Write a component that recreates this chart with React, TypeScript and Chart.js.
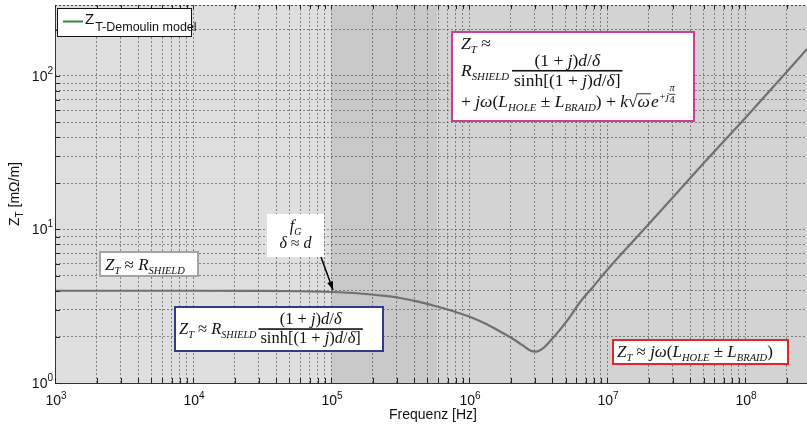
import React, { useEffect, useRef } from 'react';
import { Chart, registerables } from 'chart.js';

Chart.register(...registerables);

// ---------- data ----------
const frequencies = [
  1e3, 3e3, 1e4, 3e4, 5.96e4, 1e5, 1.62e5, 2.46e5, 3.16e5, 4.2e5, 5.5e5, 7.4e5, 1e6, 1.31e6,
  1.68e6, 2.06e6, 2.42e6, 2.77e6, 3.06e6, 3.43e6, 3.92e6, 4.55e6, 5.4e6, 6.3e6, 7.9e6, 1e7,
  2e7, 5e7, 1e8, 2e8, 2.81e8,
];
const impedance = [
  3.99, 3.99, 3.99, 3.98, 3.96, 3.915, 3.83, 3.69, 3.58, 3.4, 3.2, 2.97, 2.71, 2.44,
  2.165, 1.95, 1.77, 1.63, 1.6, 1.68, 1.9, 2.22, 2.71, 3.32, 4.22, 5.44,
  10.8, 27, 53, 106, 150,
];
const xMajorTicks = [1e3, 1e4, 1e5, 1e6, 1e7, 1e8];
const xTickExponents = ['3', '4', '5', '6', '7', '8'];
const yMajorTicks = [1, 10, 100];
const yTickExponents = ['0', '1', '2'];
const xRange = [1e3, 2.81e8];
const yRange = [1, 290];
const bandEdges = [1e3, 1e5, 5.9e5, 2.81e8];
const bandColors = ['#dfdfdf', '#c9c9c9', '#d3d3d3'];
const legendMain = 'Z';
const legendSub = 'T-Demoulin model';
const xTitle = 'Frequenz [Hz]';

// ---------- helpers ----------
const F_SERIF = '"Liberation Serif", "DejaVu Serif", serif';
const F_SANS = '"Liberation Sans", Arial, sans-serif';
const SUB = 0.62;

function withMinors(majors: number[], max: number): number[] {
  const out: number[] = [];
  for (const m of majors) for (let k = 1; k <= 9; k++) if (m * k <= max * 1.0001) out.push(m * k);
  return out;
}

type Seg = { t?: string; it?: boolean; sub?: boolean; sup?: boolean; sqrt?: string; fr?: [Seg[], Seg[]] };

const it = (t: string): Seg => ({ t, it: true });
const rm = (t: string): Seg => ({ t });
const sb = (t: string): Seg => ({ t, it: true, sub: true });

function fontFor(italic: boolean, size: number) {
  return `${italic ? 'italic ' : ''}${size}px ${F_SERIF}`;
}

function measure(ctx: CanvasRenderingContext2D, segs: Seg[], S: number): number {
  let w = 0;
  for (const s of segs) {
    if (s.fr) {
      const fs = s.sup ? S * 0.6 : S;
      w += Math.max(measure(ctx, s.fr[0], fs), measure(ctx, s.fr[1], fs)) + (s.sup ? 1 : 4);
      continue;
    }
    if (s.sqrt) {
      ctx.font = fontFor(false, S);
      const a = ctx.measureText('√').width;
      ctx.font = fontFor(true, S);
      w += a + ctx.measureText(s.sqrt).width + 1;
      continue;
    }
    const sz = s.sub || s.sup ? S * SUB : S;
    ctx.font = fontFor(!!s.it, sz);
    w += ctx.measureText(s.t || '').width;
  }
  return w;
}

function drawRich(ctx: CanvasRenderingContext2D, segs: Seg[], x: number, y: number, S: number): number {
  ctx.textBaseline = 'alphabetic';
  ctx.textAlign = 'left';
  for (const s of segs) {
    if (s.fr) {
      const fs = s.sup ? S * 0.6 : S;
      const fy = s.sup ? y - 0.55 * S : y;
      const nw = measure(ctx, s.fr[0], fs);
      const dw = measure(ctx, s.fr[1], fs);
      const w = Math.max(nw, dw) + (s.sup ? 1 : 4);
      const bar = fy - 0.3 * fs;
      ctx.fillRect(x, bar - (s.sup ? 0.4 : 0.8), w, s.sup ? 0.8 : 1.6);
      drawRich(ctx, s.fr[0], x + (w - nw) / 2, bar - 0.3 * fs, fs);
      drawRich(ctx, s.fr[1], x + (w - dw) / 2, bar + 0.85 * fs, fs);
      x += w;
      continue;
    }
    if (s.sqrt) {
      ctx.font = fontFor(false, S);
      ctx.fillText('√', x, y);
      const a = ctx.measureText('√').width;
      ctx.font = fontFor(true, S);
      const ww = ctx.measureText(s.sqrt).width;
      ctx.fillText(s.sqrt, x + a, y);
      ctx.fillRect(x + a - 0.5, y - 0.78 * S, ww + 1.5, 0.9);
      x += a + ww + 1;
      continue;
    }
    const sz = s.sub || s.sup ? S * SUB : S;
    ctx.font = fontFor(!!s.it, sz);
    const dy = s.sub ? 0.22 * S : s.sup ? -0.42 * S : 0;
    ctx.fillText(s.t || '', x, y + dy);
    x += ctx.measureText(s.t || '').width;
  }
  return x;
}

function box(ctx: CanvasRenderingContext2D, x: number, y: number, w: number, h: number, stroke: string | null) {
  ctx.fillStyle = '#ffffff';
  ctx.fillRect(x, y, w, h);
  if (stroke) {
    ctx.strokeStyle = stroke;
    ctx.lineWidth = 2;
    ctx.strokeRect(x, y, w, h);
  }
  ctx.fillStyle = '#111111';
}

const ZT: Seg[] = [it('Z'), sb('T')];
const RSH: Seg[] = [it('R'), sb('SHIELD')];
const NUM: Seg[] = [rm('(1 + '), it('j'), rm(')'), it('d'), rm('/'), it('δ')];
const DEN: Seg[] = [rm('sinh[(1 + '), it('j'), rm(')'), it('d'), rm('/'), it('δ'), rm(']')];
const JWL: Seg[] = [it('jω'), rm('('), it('L'), sb('HOLE'), rm(' ± '), it('L'), sb('BRAID'), rm(')')];

const bgPlugin = {
  id: 'bands',
  beforeDraw(chart: any) {
    const { ctx, chartArea: a, scales } = chart;
    const xs = scales.x;
    ctx.save();
    for (let i = 0; i < bandColors.length; i++) {
      const x0 = xs.getPixelForValue(bandEdges[i]);
      const x1 = xs.getPixelForValue(bandEdges[i + 1]);
      ctx.fillStyle = bandColors[i];
      ctx.fillRect(x0, a.top, x1 - x0, a.bottom - a.top);
    }
    ctx.restore();
  },
};

const overlayPlugin = {
  id: 'overlay',
  afterDraw(chart: any) {
    const { ctx, chartArea: a, scales } = chart;
    const xs = scales.x;
    const ys = scales.y;
    ctx.save();

    // axes frame
    ctx.strokeStyle = '#333333';
    ctx.lineWidth = 1;
    ctx.setLineDash([]);
    ctx.beginPath();
    ctx.moveTo(a.left + 0.5, a.top);
    ctx.lineTo(a.left + 0.5, a.bottom + 0.5);
    ctx.lineTo(a.right, a.bottom + 0.5);
    ctx.stroke();
    ctx.setLineDash([2, 2]);
    ctx.strokeStyle = '#444444';
    ctx.beginPath();
    ctx.moveTo(a.left, a.top + 0.5);
    ctx.lineTo(a.right, a.top + 0.5);
    ctx.stroke();
    ctx.setLineDash([]);

    // inside tick marks
    ctx.strokeStyle = '#222222';
    ctx.beginPath();
    for (const v of withMinors(xMajorTicks, xRange[1])) {
      const px = Math.round(xs.getPixelForValue(v)) + 0.5;
      ctx.moveTo(px, a.bottom);
      ctx.lineTo(px, a.bottom - 5);
      ctx.moveTo(px, a.top);
      ctx.lineTo(px, a.top + 4);
    }
    for (const v of withMinors(yMajorTicks, yRange[1])) {
      const py = Math.round(ys.getPixelForValue(v)) + 0.5;
      ctx.moveTo(a.left, py);
      ctx.lineTo(a.left + 5, py);
    }
    ctx.stroke();

    // tick labels
    ctx.fillStyle = '#111111';
    ctx.textBaseline = 'alphabetic';
    xMajorTicks.forEach((v, i) => {
      const px = xs.getPixelForValue(v);
      ctx.font = `14px ${F_SANS}`;
      const w10 = ctx.measureText('10').width;
      ctx.font = `10px ${F_SANS}`;
      const we = ctx.measureText(xTickExponents[i]).width;
      const x0 = px - (w10 + we) / 2 + 1;
      ctx.font = `14px ${F_SANS}`;
      ctx.textAlign = 'left';
      ctx.fillText('10', x0, a.bottom + 22);
      ctx.font = `10px ${F_SANS}`;
      ctx.fillText(xTickExponents[i], x0 + w10, a.bottom + 16);
    });
    yMajorTicks.forEach((v, i) => {
      const py = ys.getPixelForValue(v);
      ctx.font = `10px ${F_SANS}`;
      const we = ctx.measureText(yTickExponents[i]).width;
      ctx.font = `14px ${F_SANS}`;
      const w10 = ctx.measureText('10').width;
      const xEnd = a.left - 2;
      ctx.textAlign = 'left';
      ctx.fillText('10', xEnd - we - w10, py + 5);
      ctx.font = `10px ${F_SANS}`;
      ctx.fillText(yTickExponents[i], xEnd - we, py - 2);
    });

    // axis titles
    ctx.font = `14px ${F_SANS}`;
    ctx.textAlign = 'center';
    ctx.fillText(xTitle, (a.left + a.right) / 2 + 2, 419);
    ctx.save();
    ctx.translate(19, (a.top + a.bottom) / 2);
    ctx.rotate(-Math.PI / 2);
    ctx.textAlign = 'left';
    ctx.font = `14px ${F_SANS}`;
    const wz = ctx.measureText('Z').width;
    ctx.font = `10px ${F_SANS}`;
    const wt = ctx.measureText('T').width;
    ctx.font = `14px ${F_SANS}`;
    const wr = ctx.measureText(' [mΩ/m]').width;
    const tx = -(wz + wt + wr) / 2;
    ctx.fillText('Z', tx, 0);
    ctx.font = `10px ${F_SANS}`;
    ctx.fillText('T', tx + wz, 4);
    ctx.font = `14px ${F_SANS}`;
    ctx.fillText(' [mΩ/m]', tx + wz + wt, 0);
    ctx.restore();

    // legend
    box(ctx, 57, 8, 134, 28, null);
    ctx.strokeStyle = '#111111';
    ctx.lineWidth = 1;
    ctx.strokeRect(57.5, 8.5, 134, 28);
    ctx.strokeStyle = '#2f8a45';
    ctx.lineWidth = 2;
    ctx.beginPath();
    ctx.moveTo(63, 21.5);
    ctx.lineTo(83, 21.5);
    ctx.stroke();
    ctx.fillStyle = '#111111';
    ctx.textAlign = 'left';
    ctx.font = `15px ${F_SANS}`;
    ctx.fillText(legendMain, 85, 24);
    const lw = ctx.measureText(legendMain).width;
    ctx.font = `12.5px ${F_SANS}`;
    ctx.fillText(legendSub, 85 + lw + 1, 31);

    // annotation boxes
    const S1 = 17.5;
    box(ctx, 452, 32, 242, 89, '#cc3d97');
    drawRich(ctx, [...ZT, rm(' ≈')], 461, 49, S1);
    const rEnd = drawRich(ctx, RSH, 461, 76, S1);
    drawRich(ctx, [{ fr: [NUM, DEN] }], rEnd + 3, 76, S1);
    drawRich(
      ctx,
      [rm('+ '), ...JWL, rm(' + '), it('k'), { sqrt: 'ω' }, it('e'), { t: '+j', it: true, sup: true }, { fr: [[it('π')], [rm('4')]], sup: true }],
      461,
      107,
      S1,
    );

    box(ctx, 100, 252, 98, 24, '#a3a3a3');
    drawRich(ctx, [...ZT, rm(' ≈ '), ...RSH], 105, 270, 17);

    const S3 = 16.5;
    box(ctx, 175, 307, 208, 44, '#2e3b90');
    const e3 = drawRich(ctx, [...ZT, rm(' ≈ '), ...RSH], 179, 334, S3);
    drawRich(ctx, [{ fr: [NUM, DEN] }], e3 + 2, 334, S3);

    box(ctx, 613, 340, 175, 24, '#e3262b');
    drawRich(ctx, [...ZT, rm(' ≈ '), ...JWL], 617, 357, 17);

    box(ctx, 267, 214, 57, 43, null);
    const fw = measure(ctx, [it('f'), sb('G')], 16);
    drawRich(ctx, [it('f'), sb('G')], 295.5 - fw / 2, 231, 16);
    const dw = measure(ctx, [it('δ'), rm(' ≈ '), it('d')], 16);
    drawRich(ctx, [it('δ'), rm(' ≈ '), it('d')], 295.5 - dw / 2, 248, 16);

    // arrow
    const ax0 = 321, ay0 = 257, ax1 = 333, ay1 = 290;
    ctx.strokeStyle = '#000000';
    ctx.lineWidth = 1.5;
    ctx.beginPath();
    ctx.moveTo(ax0, ay0);
    ctx.lineTo(ax1, ay1);
    ctx.stroke();
    const ang = Math.atan2(ay1 - ay0, ax1 - ax0);
    ctx.fillStyle = '#000000';
    ctx.beginPath();
    ctx.moveTo(ax1, ay1);
    ctx.lineTo(ax1 - 9 * Math.cos(ang - 0.35), ay1 - 9 * Math.sin(ang - 0.35));
    ctx.lineTo(ax1 - 9 * Math.cos(ang + 0.35), ay1 - 9 * Math.sin(ang + 0.35));
    ctx.closePath();
    ctx.fill();

    ctx.restore();
  },
};

export default function App() {
  const ref = useRef<HTMLCanvasElement | null>(null);
  useEffect(() => {
    if (!ref.current) return;
    const gridOpts = { color: 'rgba(70,70,70,0.6)', lineWidth: 1, drawTicks: false };
    const chart = new Chart(ref.current, {
      type: 'line',
      data: {
        datasets: [
          {
            label: 'Z_T-Demoulin model',
            data: frequencies.map((f, i) => ({ x: f, y: impedance[i] })),
            borderColor: '#6b736e',
            borderWidth: 2.2,
            pointRadius: 0,
            cubicInterpolationMode: 'monotone',
            fill: false,
          },
        ],
      },
      options: {
        animation: false,
        responsive: false,
        events: [],
        layout: { padding: { left: 55, top: 5, right: 0, bottom: 42 } },
        plugins: { legend: { display: false }, tooltip: { enabled: false } },
        scales: {
          x: {
            type: 'logarithmic',
            min: xRange[0],
            max: xRange[1],
            ticks: { display: false },
            grid: gridOpts,
            border: { display: false, dash: [2, 2] },
            afterBuildTicks: (scale: any) => {
              scale.ticks = withMinors(xMajorTicks, xRange[1]).map((v) => ({ value: v }));
            },
          },
          y: {
            type: 'logarithmic',
            min: yRange[0],
            max: yRange[1],
            ticks: { display: false },
            grid: gridOpts,
            border: { display: false, dash: [2, 2] },
            afterBuildTicks: (scale: any) => {
              scale.ticks = withMinors(yMajorTicks, yRange[1]).map((v) => ({ value: v }));
            },
          },
        },
      },
      plugins: [bgPlugin, overlayPlugin],
    } as any);
    return () => chart.destroy();
  }, []);
  return (
    <div style={{ position: 'absolute', left: 0, top: 0, width: 807, height: 425, background: '#fff' }}>
      <canvas ref={ref} width={807} height={425} style={{ display: 'block', width: 807, height: 425 }} />
    </div>
  );
}
